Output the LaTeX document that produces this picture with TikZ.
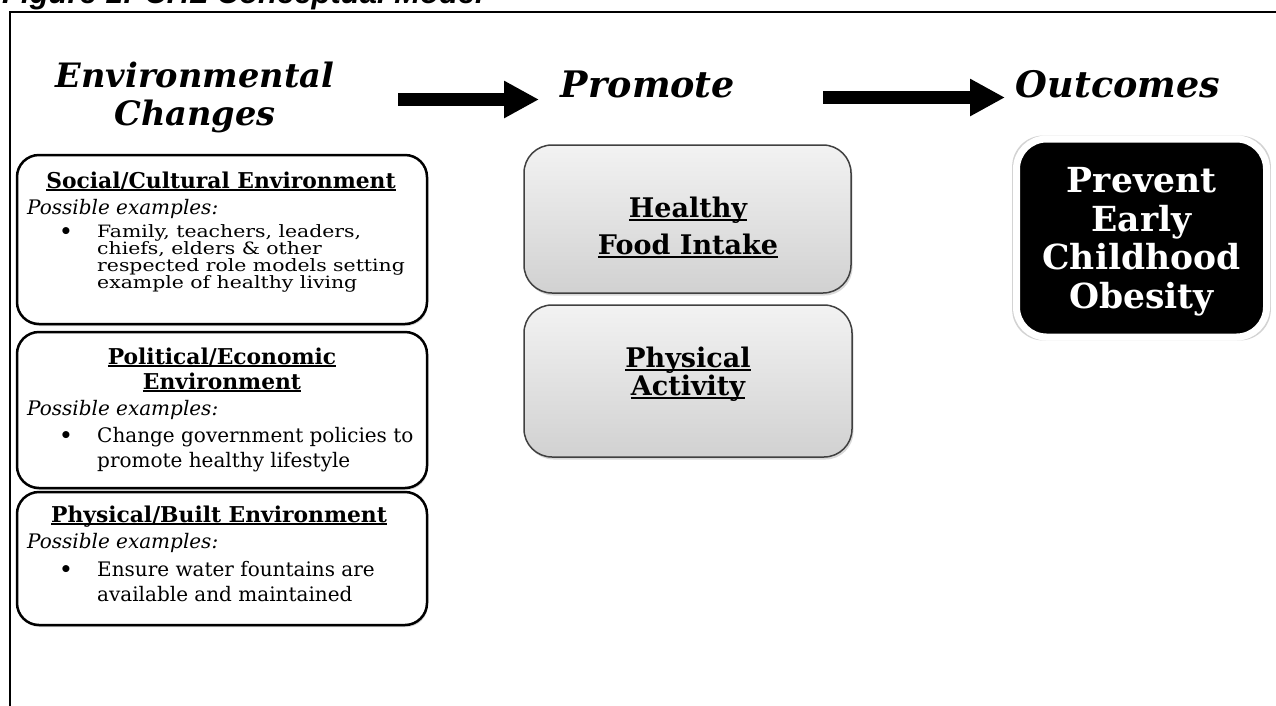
\documentclass[tikz,border=0pt]{standalone}
\usepackage{fontspec}
\setmainfont{DejaVu Serif}
\newfontfamily\figsans{Liberation Sans}
\newfontfamily\tightfont[FakeStretch=1.2]{DejaVu Serif}
\usetikzlibrary{shadows,arrows.meta}
\newcommand\myul[1]{{\setbox0\hbox{#1}\rlap{\rule[-0.13em]{\wd0}{0.07em}}\box0}}
\tikzset{
  leftbox/.style={draw=black, line width=2.5pt, fill=white, rounded corners=22pt,
    inner sep=0pt, drop shadow={opacity=0.35, shadow xshift=1pt, shadow yshift=-2pt}},
  midbox/.style={draw=black!75, line width=1.5pt, top color=gray!10, bottom color=gray!36,
    rounded corners=28pt, inner sep=0pt,
    drop shadow={opacity=0.3, shadow xshift=1.5pt, shadow yshift=-2.5pt}},
  outbox/.style={draw=white, line width=7pt, fill=black, rounded corners=30pt, inner sep=0pt,
    drop shadow={opacity=0.35, shadow xshift=0pt, shadow yshift=0pt, shadow scale=1.035}},
  head/.style={anchor=base, inner sep=0pt, font=\bfseries\itshape\fontsize{33.6}{38}\selectfont},
  head2/.style={anchor=base, inner sep=0pt, font=\bfseries\itshape\fontsize{36.5}{38}\selectfont},
  boxtitle/.style={anchor=base, inner sep=0pt, font=\bfseries\fontsize{21.8}{25}\selectfont},
  poss/.style={anchor=base west, inner sep=0pt, font=\itshape\fontsize{20}{25}\selectfont},
  bul/.style={anchor=base, inner sep=0pt, font=\bfseries\fontsize{20}{20}\selectfont},
  btext/.style={anchor=base west, inner sep=0pt, font=\fontsize{20}{25}\selectfont},
  btight/.style={anchor=base west, inner sep=0pt, font=\tightfont\fontsize{17}{17}\selectfont},
  midtext/.style={anchor=base, inner sep=0pt, font=\bfseries\fontsize{27}{36}\selectfont},
  outtext/.style={anchor=base, inner sep=0pt, text=white, font=\bfseries\fontsize{34.5}{38}\selectfont},
  bigarrow/.style={line width=13pt, -{Triangle[width=35pt,length=35pt]}}
}
\begin{document}
\begin{tikzpicture}[x=1pt,y=-1pt]
\useasboundingbox (0,0) rectangle (1276,705);
% cut-off figure caption and frame
\node[anchor=base west, inner sep=0pt, font=\figsans\bfseries\itshape\fontsize{31}{31}\selectfont] (fig) at (2,3.5) {Figure 1: CHL Conceptual Model};
\draw[line width=2.2pt] (10,710) -- (10,12) -- (1280,12);

% headers
\node[head] (env1) at (195,87) {Environmental};
\node[head] (env2) at (195,125) {Changes};
\node[head2] (prom) at (648,97) {Promote};
\node[head2] (outc) at (1118,97) {Outcomes};

% block arrows
\coordinate (a1s) at (398,99.5);
\coordinate (a1e) at (539,99.5);
\coordinate (a2s) at (823,97.5);
\coordinate (a2e) at (1005,97.5);
\draw[bigarrow] (a1s) -- (a1e);
\draw[bigarrow] (a2s) -- (a2e);

% left boxes
\node[leftbox, minimum width=410pt, minimum height=169pt] (soc) at (222,239.5) {};
\node[leftbox, minimum width=410pt, minimum height=156pt] (pol) at (222,410) {};
\node[leftbox, minimum width=410pt, minimum height=133pt] (phy) at (222,558.5) {};

% box 1 text
\node[boxtitle] (soct) at (221,188) {\myul{Social/Cultural Environment}};
\node[poss] (socp) at (27,214) {Possible examples:};
\node[bul] (socb) at (66,238) {\textbullet};
\node[btight] (socl1) at (97,237) {Family, teachers, leaders,};
\node[btight] (socl2) at (97,254) {chiefs, elders \& other};
\node[btight] (socl3) at (97,271) {respected role models setting};
\node[btight] (socl4) at (97,288) {example of healthy living};

% box 2 text
\node[boxtitle] (polt1) at (222,364) {\myul{Political/Economic}};
\node[boxtitle] (polt2) at (222,389) {\myul{Environment}};
\node[poss] (polp) at (27,415) {Possible examples:};
\node[bul] (polb) at (66,442) {\textbullet};
\node[btext] (poll1) at (97,442) {Change government policies to};
\node[btext] (poll2) at (97,467) {promote healthy lifestyle};

% box 3 text
\node[boxtitle] (phyt) at (219,522) {\myul{Physical/Built Environment}};
\node[poss] (phyp) at (27,548) {Possible examples:};
\node[bul] (phyb) at (66,576) {\textbullet};
\node[btext] (phyl1) at (97,576) {Ensure water fountains are};
\node[btext] (phyl2) at (97,601) {available and maintained};

% middle boxes
\node[midbox, minimum width=327pt, minimum height=148pt] (food) at (687.5,219) {};
\node[midbox, minimum width=328pt, minimum height=152pt] (act) at (688,381) {};
\node[midtext] (food1) at (688,217) {\myul{Healthy}};
\node[midtext] (food2) at (688,254) {\myul{Food Intake}};
\node[midtext] (act1) at (688,367) {\myul{Physical}};
\node[midtext] (act2) at (688,395) {\myul{Activity}};

% outcome box
\node[outbox, minimum width=250pt, minimum height=198pt] (obes) at (1141.5,238) {};
\node[outtext] (ob1) at (1141.5,192) {Prevent};
\node[outtext] (ob2) at (1141.5,231) {Early};
\node[outtext] (ob3) at (1141.5,269) {Childhood};
\node[outtext] (ob4) at (1141.5,308) {Obesity};
\end{tikzpicture}
\end{document}
